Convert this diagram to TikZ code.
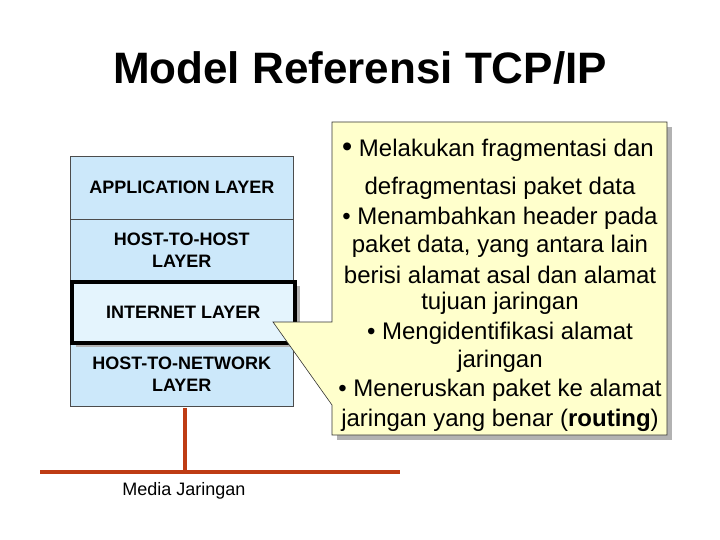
\documentclass[tikz,border=0pt]{standalone}
\usepackage{fontspec}
\setmainfont{Liberation Sans}
\definecolor{lblue}{RGB}{204,232,250}
\definecolor{lblue2}{RGB}{228,244,253}
\definecolor{cyell}{RGB}{255,255,204}
\definecolor{mred}{RGB}{190,60,20}
\begin{document}
\begin{tikzpicture}[x=1pt,y=-1pt,
 layer/.style={draw=black!70,fill=lblue,line width=0.6pt,minimum width=223pt,anchor=north west,inner sep=0pt,align=center,font=\bfseries\fontsize{18}{22}\selectfont},
 txt/.style={font=\fontsize{24}{28}\selectfont,anchor=center},
 media/.style={draw=mred,line width=3.5pt}]
\useasboundingbox (0,0) rectangle (720,540);
\node[font=\bfseries\fontsize{44}{48}\selectfont] (title) at (360,68) {Model Referensi TCP/IP};
% stack
\node[layer,minimum height=63pt] (app) at (70,156) {APPLICATION LAYER};
\node[layer,minimum height=61pt] (h2h) at (70,219) {HOST-TO-HOST\\LAYER};
\node[layer,minimum height=65pt] (net) at (70,341) {HOST-TO-NETWORK\\LAYER};
\fill[black!30] (76,286) rectangle (300,347);
\node[layer,draw=black,line width=3.5pt,fill=lblue2,minimum width=223pt,minimum height=61pt] (inet) at (70,280) {INTERNET LAYER};
% media
\coordinate (m1) at (185,408);
\coordinate (m2) at (185,472);
\coordinate (ml) at (40,472);
\coordinate (mr) at (400,472);
\draw[media] (ml) -- (mr);
\draw[media] (m1) -- (m2);
\node[font=\fontsize{18}{20}\selectfont] (mj) at (184,491) {Media Jaringan};
% callout
\fill[black!30] (337,127) -- (672,127) -- (672,440) -- (337,440) -- cycle;
\filldraw[fill=cyell,draw=black!80,line width=0.6pt]
 (332,122) -- (667,122) -- (667,435) -- (332,435) -- (332,405) -- (273,322) -- (332,322) -- cycle;
\node[txt] (c1) at (498,150) {{\fontsize{29}{29}\selectfont•} Melakukan fragmentasi dan};
\node[txt] (c2) at (500,188) {defragmentasi paket data};
\node[txt] (c3) at (500,218) {• Menambahkan header pada};
\node[txt] (c4) at (500,246) {paket data, yang antara lain};
\node[txt] (c5) at (500,275) {berisi alamat asal dan alamat};
\node[txt] (c6) at (500,303) {tujuan jaringan};
\node[txt] (c7) at (500,333) {• Mengidentifikasi alamat};
\node[txt] (c8) at (500,361) {jaringan};
\node[txt] (c9) at (500,390) {• Meneruskan paket ke alamat};
\node[txt] (c10) at (500,420) {jaringan yang benar (\textbf{routing})};
\end{tikzpicture}
\end{document}
